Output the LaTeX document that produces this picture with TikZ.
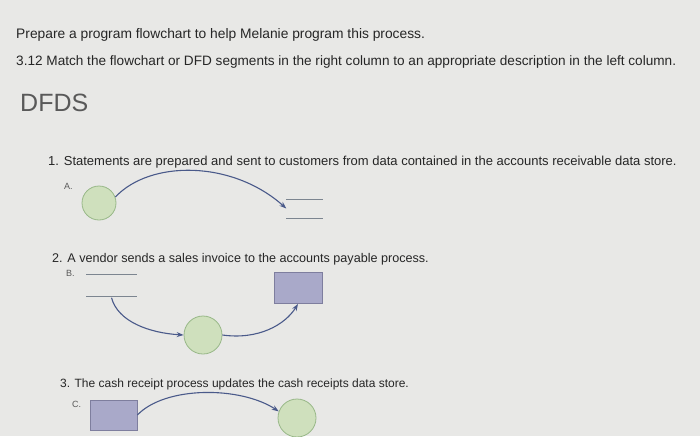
\documentclass[tikz,border=0pt]{standalone}
\usepackage{fontspec}
\setmainfont{Liberation Sans}
\usetikzlibrary{arrows.meta,positioning}

\definecolor{screen}{HTML}{E8E8E6}
\definecolor{procfill}{HTML}{CFE0BD}
\definecolor{procline}{HTML}{98B888}
\definecolor{entfill}{HTML}{A9A9C9}
\definecolor{entline}{HTML}{7E7E9E}
\definecolor{flowcol}{HTML}{4A5A8A}
\definecolor{storecol}{HTML}{7C8590}

\tikzset{
  proc/.style={circle, fill=procfill, draw=procline, thick, minimum size=34pt, inner sep=0pt},
  ent/.style={rectangle, fill=entfill, draw=entline, thick, minimum width=48pt, minimum height=31pt, inner sep=0pt},
  dstore/.style={minimum width=36pt, minimum height=19pt, inner sep=0pt},
  flow/.style={line width=1.1pt, draw=flowcol, -{Stealth[length=7pt,width=5pt]}},
  qtext/.style={anchor=west, inner sep=0pt, text=black!85},
  lab/.style={anchor=west, inner sep=0pt, font=\fontsize{9}{10}\selectfont, text=black!65}
}

\begin{document}
\begin{tikzpicture}[x=1pt,y=-1pt]

\fill[screen] (0,0) rectangle (700,436);
\useasboundingbox (0,0) rectangle (700,436);

% heading
\node[qtext, font=\fontsize{13.8}{16}\selectfont] (title) at (16,35) {Prepare a program flowchart to help Melanie program this process.};
\node[qtext, font=\fontsize{13.6}{16}\selectfont] (task) at (16,62) {3.12 Match the flowchart or DFD segments in the right column to an appropriate description in the left column.};
\node[qtext, font=\fontsize{25}{28}\selectfont, text=black!65] (dfds) at (20,103) {DFDS};

% 1
\node[qtext, font=\fontsize{13}{15}\selectfont] (qone) at (48,162) {1. Statements are prepared and sent to customers from data contained in the accounts receivable data store.};
\node[lab] (labA) at (64,186) {A.};
\node[proc] (procA) at (99,203) {};
\node[dstore] (storeA) at (304.5,208.5) {};
\draw[storecol] (storeA.north west) -- (storeA.north east);
\draw[storecol] (storeA.south west) -- (storeA.south east);
\draw[flow] (procA.20) .. controls (150,160) and (232,160) .. (storeA.west);

% 2
\node[qtext, font=\fontsize{12.6}{14}\selectfont] (qtwo) at (52,259) {2. A vendor sends a sales invoice to the accounts payable process.};
\node[lab] (labB) at (66,273) {B.};
\node[dstore, minimum width=50pt, minimum height=21pt] (storeB) at (111.5,285) {};
\draw[storecol] (storeB.north west) -- (storeB.north east);
\draw[storecol] (storeB.south west) -- (storeB.south east);
\node[ent] (entB) at (298,288) {};
\node[proc, minimum size=38pt] (procB) at (203,335) {};
\draw[flow] (storeB.south) ++(0,2) .. controls (118,322) and (150,333) .. (procB.west);
\draw[flow] (procB.east) .. controls (258,340) and (285,325) .. (entB.south);

% 3
\node[qtext, font=\fontsize{12}{14}\selectfont] (qthree) at (60,384) {3. The cash receipt process updates the cash receipts data store.};
\node[lab] (labC) at (72,404) {C.};
\node[ent, minimum width=47pt, minimum height=30pt] (entC) at (113.5,415) {};
\node[proc, minimum size=38pt] (procC) at (297,418) {};
\draw[flow] (entC.east) .. controls (165,386) and (240,386) .. (procC.160);

\end{tikzpicture}
\end{document}
